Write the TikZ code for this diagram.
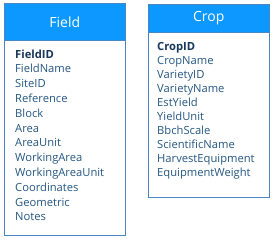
\documentclass[tikz,border=0pt]{standalone}
\usepackage{fontspec}
\setmainfont{Open Sans}
\usetikzlibrary{positioning}
\definecolor{hdrblue}{RGB}{12,152,255}
\definecolor{edgeblue}{RGB}{75,135,195}
\definecolor{txtblue}{RGB}{38,88,130}
\definecolor{keyblue}{RGB}{25,55,90}

\begin{document}
\begin{tikzpicture}[x=1pt, y=-1pt,
  font=\fontsize{11.2}{13}\selectfont,
  tbl/.style={draw=edgeblue, semithick, fill=white, anchor=north west, minimum width=121pt, inner sep=0pt},
  hdr/.style={draw=edgeblue, semithick, fill=hdrblue, anchor=north west, minimum width=121pt, inner sep=0pt, text=white, font=\fontsize{14}{16}\selectfont},
  item/.style={anchor=west, inner sep=0pt, text=txtblue, text height=8pt, text depth=2pt},
  key/.style={item, text=keyblue, font=\fontsize{11.2}{13}\selectfont\bfseries}
]
\useasboundingbox (0,0) rectangle (274,242);

% Field table
\node[tbl, minimum height=232pt] (field) at (4,3) {};
\node[hdr, minimum height=37pt] (fieldhdr) at (4,3) {Field};
\node[key] (fld0) at (15,55) {FieldID};
\foreach \t [count=\i] in {FieldName, SiteID, Reference, Block, Area, AreaUnit, WorkingArea, WorkingAreaUnit, Coordinates, Geometric, Notes}
  \node[item] (fld\i) at (15,55+14.8*\i) {\t};

% Crop table
\node[tbl, minimum height=193pt] (crop) at (148,4) {};
\node[hdr, minimum height=28pt] (crophdr) at (148,4) {Crop};
\node[key] (crp0) at (157,47.5) {CropID};
\foreach \t [count=\i] in {CropName, VarietyID, VarietyName, EstYield, YieldUnit, BbchScale, ScientificName, HarvestEquipment, EquipmentWeight}
  \node[item] (crp\i) at (157,47.5+14*\i) {\t};

\end{tikzpicture}
\end{document}
